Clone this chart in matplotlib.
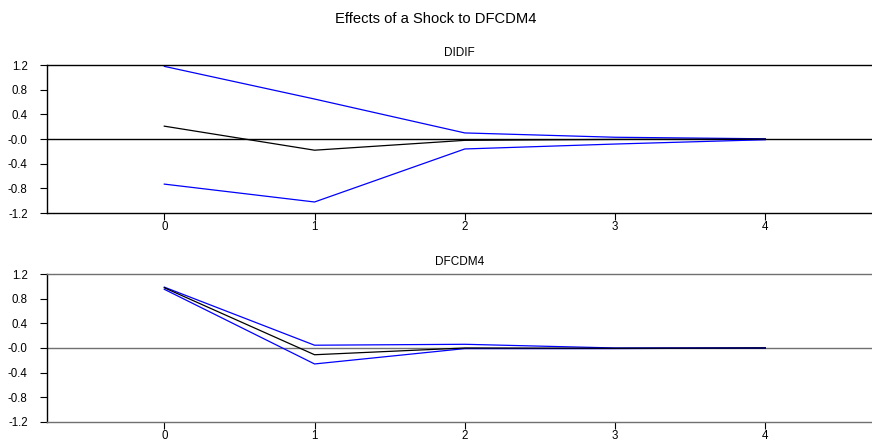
import matplotlib
matplotlib.use("Agg")
import matplotlib.pyplot as plt

plt.rcParams['font.family'] = ['Liberation Sans', 'DejaVu Sans']

steps = [0, 1, 2, 3, 4]
ytick_vals = [-1.2, -0.8, -0.4, 0.0, 0.4, 0.8, 1.2]
ytick_labels = ['-1.2', '-0.8', '-0.4', '-0.0', '0.4', '0.8', '1.2']

didif_resp = [0.21, -0.18, -0.02, -0.005, 0.0]
didif_upper = [1.18, 0.65, 0.10, 0.03, 0.005]
didif_lower = [-0.73, -1.02, -0.16, -0.08, -0.01]

dfcdm4_resp = [0.98, -0.11, 0.0, -0.005, 0.0]
dfcdm4_upper = [0.99, 0.045, 0.06, 0.0, 0.0]
dfcdm4_lower = [0.955, -0.26, -0.01, -0.01, 0.0]

panels = [
    ("DIDIF", didif_resp, didif_upper, didif_lower, [0.054, 0.519, 0.946, 0.334], 'black'),
    ("DFCDM4", dfcdm4_resp, dfcdm4_upper, dfcdm4_lower, [0.054, 0.048, 0.946, 0.333], '#707070'),
]

fig = plt.figure(figsize=(8.72, 4.43), dpi=100)
fig.text(0.5, 0.957, "Effects of a Shock to DFCDM4", ha='center', va='center', fontsize=10.6)

for name, resp, upper, lower, pos, hcol in panels:
    ax = fig.add_axes(pos)
    ax.axhline(0, color=hcol, lw=1)
    ax.plot(steps, upper, color='blue', lw=0.9)
    ax.plot(steps, lower, color='blue', lw=0.9)
    ax.plot(steps, resp, color='black', lw=0.9)
    ax.set_xlim(-0.78, 4.71)
    ax.set_ylim(-1.2, 1.2)
    ax.set_xticks(steps)
    ax.set_yticks(ytick_vals)
    ax.set_yticklabels(ytick_labels)
    ax.spines['right'].set_visible(False)
    ax.spines['top'].set_color(hcol)
    ax.spines['bottom'].set_color(hcol)
    ax.spines['left'].set_color('black')
    for s in ax.spines.values():
        s.set_linewidth(1)
    ax.tick_params(axis='both', direction='out', length=5, width=0.8, labelsize=8.3)
    ax.tick_params(axis='x', pad=1)
    ax.tick_params(axis='y', pad=9)
    ax.text(0.5, 1.04, name, transform=ax.transAxes, ha='center', va='bottom', fontsize=8.5)

fig.savefig("out.png", dpi=100)
